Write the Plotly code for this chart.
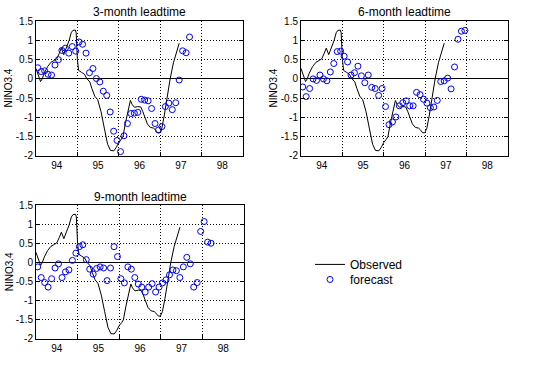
import plotly.graph_objects as go

# ---------------- data ----------------
obs_t = [1994.00, 1994.05, 1994.11, 1994.15, 1994.20, 1994.28, 1994.36, 1994.44, 1994.50,
         1994.56, 1994.61, 1994.67, 1994.75, 1994.80, 1994.85, 1994.89, 1994.95, 1994.97,
         1995.00, 1995.03, 1995.10, 1995.17, 1995.22, 1995.26, 1995.30, 1995.35, 1995.42,
         1995.49, 1995.57, 1995.65, 1995.73, 1995.80, 1995.88, 1995.94, 1996.00, 1996.06,
         1996.10, 1996.16, 1996.22, 1996.28, 1996.32, 1996.38, 1996.46, 1996.53, 1996.58,
         1996.64, 1996.69, 1996.76, 1996.84, 1996.88, 1996.94, 1996.99, 1997.04, 1997.10,
         1997.16, 1997.24, 1997.32, 1997.40, 1997.46]
obs_v = [0.27, 0.10, -0.07, 0.00, 0.15, 0.32, 0.43, 0.48, 0.52,
         0.66, 0.80, 0.63, 0.86, 1.00, 1.20, 1.26, 1.27, 1.20,
         0.50, 0.22, 0.17, 0.12, 0.02, -0.04, -0.08, -0.25, -0.45,
         -0.54, -0.85, -1.28, -1.70, -1.86, -1.87, -1.78, -1.65, -1.57,
         -1.50, -1.15, -0.85, -0.56, -0.66, -0.74, -0.72, -0.73, -0.85,
         -1.02, -1.17, -1.26, -1.28, -1.32, -1.40, -1.40, -1.28, -0.94,
         -0.52, 0.00, 0.42, 0.75, 0.93]

# forecasts: one value per month starting January 1994
fc_start = 1994.0
fc3 = [0.29, 0.19, 0.21, 0.12, 0.10, 0.36, 0.50, 0.74, 0.80, 0.67, 0.84, 0.72,
       0.96, 0.90, 0.67, 0.16, 0.27, 0.01, -0.08, -0.32, -0.43, -0.86, -1.36, -1.60,
       -1.89, -1.48, -1.16, -0.90, -0.89, -0.87, -0.53, -0.55, -0.57, -0.77, -1.16, -1.33,
       -1.24, -0.72, -0.63, -0.80, -0.62, -0.03, 0.73, 0.68, 1.09]
fc6 = [-0.21, -0.46, -0.25, 0.00, -0.04, 0.10, 0.00, -0.05, 0.18, 0.40, 0.71, 0.72,
       0.59, 0.44, 0.10, 0.16, 0.33, 0.08, -0.10, 0.10, -0.22, -0.25, -0.43, -0.25,
       -0.72, -1.19, -1.12, -0.99, -0.70, -0.62, -0.57, -0.70, -0.70, -0.35, -0.41, -0.53,
       -0.63, -0.75, -0.73, -0.56, -0.07, -0.05, 0.02, -0.26, 0.31, 1.03, 1.24, 1.26]
fc9 = [-0.11, -0.39, -0.52, -0.64, -0.42, -0.14, -0.03, -0.39, -0.24, -0.19, 0.06, 0.25,
       0.42, 0.47, 0.08, -0.17, -0.30, -0.15, -0.11, -0.14, -0.47, -0.14, 0.42, 0.16,
       -0.42, -0.53, -0.11, -0.17, -0.39, -0.56, -0.64, -0.77, -0.64, -0.55, -0.77, -0.64,
       -0.53, -0.45, -0.32, -0.19, -0.21, -0.39, -0.11, 0.14, -0.03, -0.64, -0.52, 0.82,
       1.08, 0.54, 0.51]

titles = ["3-month leadtime", "6-month leadtime", "9-month leadtime"]
year_ticks = [1995, 1996, 1997, 1998]
year_label_pos = [1994.5, 1995.5, 1996.5, 1997.5, 1998.5]
year_labels = ["94", "95", "96", "97", "98"]
y_ticks = [1.5, 1, 0.5, 0, -0.5, -1, -1.5, -2]
y_labels = ["1.5", "1", "0.5", "0", "-0.5", "-1", "-1.5", "-2"]


def month_x(vals):
    return [fc_start + (i + 0.5) / 12.0 for i in range(len(vals))]


FONT = "Liberation Sans, Arial, sans-serif"
W, H = 537, 366
DOT = "1px,2px"

fig = go.Figure()
series = [fc3, fc6, fc9]
for k, fc in enumerate(series):
    ax = "" if k == 0 else str(k + 1)
    fig.add_trace(go.Scatter(x=obs_t, y=obs_v, mode="lines",
                             line=dict(color="black", width=1),
                             name="Observed", showlegend=(k == 0), legend="legend",
                             xaxis="x" + ax, yaxis="y" + ax))
    fig.add_trace(go.Scatter(x=month_x(fc), y=fc, mode="markers",
                             marker=dict(symbol="circle-open", size=6,
                                         color="#0000ff", line=dict(width=1, color="#0000ff")),
                             name="forecast", showlegend=(k == 0), legend="legend2",
                             xaxis="x" + ax, yaxis="y" + ax))

# panel boxes in pixels: (left, right, top, bottom)
boxes = [(36, 243, 16.7, 155.5), (301, 508, 16.7, 155.5), (36, 244, 206.7, 344.3)]


def xaxis_style(domain, anchor):
    return dict(domain=domain, anchor=anchor, range=[1994, 1999],
                tickmode="array", tickvals=year_label_pos, ticktext=year_labels,
                ticks="", showgrid=False, zeroline=False,
                showline=True, linecolor="black", linewidth=1, mirror=True,
                tickfont=dict(family=FONT, size=10, color="black"),
                minor=dict(tickmode="array", tickvals=year_ticks, ticks="inside",
                           ticklen=4, tickcolor="black", showgrid=True,
                           gridcolor="black", griddash=DOT, gridwidth=1),
                fixedrange=True)


def yaxis_style(domain, anchor):
    return dict(domain=domain, anchor=anchor, range=[-2, 1.5],
                tickmode="array", tickvals=y_ticks, ticktext=y_labels,
                ticks="inside", ticklen=4, tickcolor="black",
                showgrid=True, gridcolor="black", griddash=DOT, gridwidth=1,
                zeroline=True, zerolinecolor="black", zerolinewidth=1,
                showline=True, linecolor="black", linewidth=1, mirror="ticks",
                tickfont=dict(family=FONT, size=10, color="black"),
                fixedrange=True)


layout = dict(width=W, height=H, margin=dict(l=0, r=0, t=0, b=0),
              paper_bgcolor="white", plot_bgcolor="white",
              font=dict(family=FONT, size=10, color="black"))
annotations = []
for k, (l, r, t, b) in enumerate(boxes):
    ax = "" if k == 0 else str(k + 1)
    xd = [l / W, r / W]
    yd = [1 - b / H, 1 - t / H]
    layout["xaxis" + ax] = xaxis_style(xd, "y" + ax)
    layout["yaxis" + ax] = yaxis_style(yd, "x" + ax)
    annotations.append(dict(text=titles[k], xref="paper", yref="paper",
                            x=(l + r) / 2 / W, y=1 - (t - 9) / H,
                            xanchor="center", yanchor="middle", showarrow=False,
                            font=dict(family=FONT, size=12, color="black")))
    annotations.append(dict(text="NINO3.4", xref="paper", yref="paper",
                            x=(l - 27) / W, y=1 - (t + b) / 2 / H, textangle=-90,
                            xanchor="center", yanchor="middle", showarrow=False,
                            font=dict(family=FONT, size=10, color="black")))
layout["annotations"] = annotations
leg_common = dict(xanchor="left", yanchor="top", bgcolor="rgba(0,0,0,0)", borderwidth=0,
                  font=dict(family=FONT, size=12, color="black"), itemwidth=30)
layout["legend"] = dict(x=310 / W, y=1 - 252.5 / H, **leg_common)
layout["legend2"] = dict(x=310 / W, y=1 - 268 / H, **leg_common)
fig.update_layout(**layout)
fig.write_html("out.html", config={"displayModeBar": False},
               post_script="document.body.style.margin='0';document.body.style.padding='0';")
